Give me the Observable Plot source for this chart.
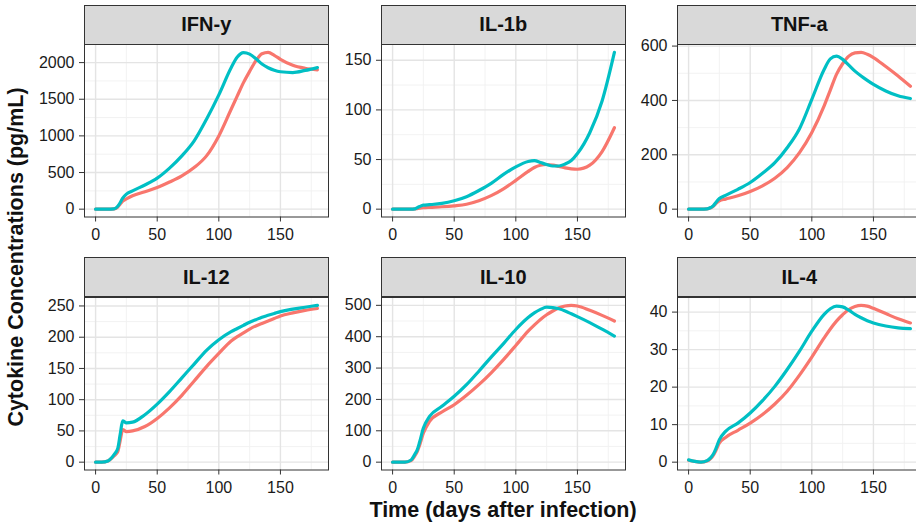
<!DOCTYPE html>
<html><head><meta charset="utf-8">
<script src="https://cdn.jsdelivr.net/npm/d3@7"></script>
<script src="https://cdn.jsdelivr.net/npm/@observablehq/plot@0.6"></script>
<style>
body{margin:0;background:#fff;}
#chart{position:relative;width:916px;height:524px;overflow:hidden;font-family:"Liberation Sans",Arial,sans-serif;background:#fff;}
.strip{position:absolute;box-sizing:border-box;background:#D9D9D9;border:1px solid #333;display:flex;align-items:center;justify-content:center;font-weight:bold;font-size:20px;color:#111;}
.panel{position:absolute;}
.panel svg{overflow:visible;max-width:none !important;}
</style></head><body><div id="chart"></div><script>
// ---- data ----
const days = [0,5,10,15,18,20,22,25,30,40,50,60,70,80,90,100,110,115,120,125,130,135,140,145,150,160,170,180];

const ifnRed  = [0,0,0,3,30,70,110,140,182,238,295,370,455,568,727,1000,1364,1545,1727,1880,2023,2120,2140,2100,2045,1964,1923,1900];
const ifnTeal = [0,0,0,5,40,90,150,205,250,330,423,560,727,932,1227,1560,1930,2075,2135,2115,2055,1980,1930,1895,1875,1864,1893,1932];

const il1bRed  = [0,0,0,0,0.2,0.6,1,1.4,1.8,2.4,3.4,5,8.5,13.6,20.5,29,38,42,44.3,45,44.3,43,41.6,40.6,40.2,44.3,58,82];
const il1bTeal = [0,0,0,0,0.3,1.5,2.7,4,4.5,5.8,8.5,12.6,18.8,26,35,42.6,48,48.8,47,45,43.5,43.5,45.5,49,56,77,109,158];

const tnfRed  = [0,0,0,1,5,11,20,31,37,49,65,86,114,153,208,282,380,438,496,535,563,575,577,570,558,525,490,452];
const tnfTeal = [0,0,0,1,6,12,24,39,51,73,98,132,171,226,296,404,514,553,563,551,530,508,490,474,459,435,417,407];

const il12Red  = [0,0,2,10,17,35,52,49,50,57,70,87,107,130,153,174,194,201,207,213,218,222,226,230,234,239,243,246];
const il12Teal = [0,0,2,12,22,45,66,63,64,76,93,113,135,157,179,196,209,214,219,224,228,232,235,238,241,245,248,251];

const il10Red  = [0,0,0,5,20,34,55,93,130,160,183,213,247,285,327,372,418,437,455,470,482,492,498,500,498,484,468,450];
const il10Teal = [0,0,0,7,25,39,65,109,146,178,210,247,290,335,378,423,461,476,487,494,493,489,482,473,464,445,424,402];

const il4Red  = [0.5,0.2,0,0.3,1,1.8,3,5.1,6.6,8.5,10.4,12.7,15.5,18.9,23.2,28,33.1,35.5,37.6,39.3,40.7,41.5,41.8,41.6,41,39.6,38.2,37.1];
const il4Teal = [0.6,0.2,0,0.4,1.2,2.1,3.5,6,8.2,10.4,13.1,16.4,20.2,24.7,29.6,34.9,39.4,40.9,41.6,41.4,40.5,39.4,38.5,37.7,37.1,36.3,35.8,35.6];

const panelNames = ["IFN-y","IL-1b","TNF-a","IL-12","IL-10","IL-4"];
const redSeries  = [ifnRed, il1bRed, tnfRed, il12Red, il10Red, il4Red];
const tealSeries = [ifnTeal, il1bTeal, tnfTeal, il12Teal, il10Teal, il4Teal];
const yTickSets = [
  [0,500,1000,1500,2000],
  [0,50,100,150],
  [0,200,400,600],
  [0,50,100,150,200,250],
  [0,100,200,300,400,500],
  [0,10,20,30,40]
];
const xTicks = [0,50,100,150];
const xMinorTicks = [25,75,125,175];
const seriesNames = ["group 1","group 2"];
const seriesColors = ["#F8766D","#00BFC4"];
const xTitle = "Time (days after infection)";
const yTitle = "Cytokine Concentrations (pg/mL)";

// ---- layout ----
const colLeft = [84, 381, 677];
const rowTop = [4.5, 257];
const panelW = 244, stripH = 39.5, panelH = 172.5;
const mL = 70, mR = 2, mT = 2, mB = 40;

const chart = document.getElementById("chart");

panelNames.forEach((name, i) => {
  const col = i % 3, row = Math.floor(i / 3);
  const left = colLeft[col], top = rowTop[row];
  const rows = [];
  seriesNames.forEach((s, k) => {
    const vals = k === 0 ? redSeries[i] : tealSeries[i];
    days.forEach((d, j) => rows.push({day: d, value: vals[j], series: s}));
  });
  const vmin = d3.min(rows, d => d.value), vmax = d3.max(rows, d => d.value);
  const pad = (vmax - vmin) * 0.05;
  const ydom = [vmin - pad, vmax + pad];
  const yMajor = yTickSets[i];
  const step = yMajor[1] - yMajor[0];
  const yMinor = d3.range(yMajor[0] - step / 2, yMajor[yMajor.length - 1] + step, step)
    .filter(v => v >= ydom[0] && v <= ydom[1]);

  const strip = document.createElement("div");
  strip.className = "strip";
  strip.style.left = left + "px";
  strip.style.top = top + "px";
  strip.style.width = (panelW + 0.5) + "px";
  strip.style.height = (stripH + 0.5) + "px";
  strip.textContent = name;
  chart.appendChild(strip);

  const W = mL + panelW + mR, H = mT + panelH + mB;
  const p = Plot.plot({
    width: W,
    height: H,
    marginLeft: mL, marginRight: mR, marginTop: mT, marginBottom: mB,
    x: {domain: [-9, 189], label: null},
    y: {domain: ydom, label: null},
    color: {type: "ordinal", domain: seriesNames, range: seriesColors},
    style: {fontSize: "16px", fontFamily: '"Liberation Sans", Arial, sans-serif', color: "#1a1a1a", background: "transparent", maxWidth: "none"},
    marks: [
      Plot.ruleX(xMinorTicks, {stroke: "#F1F1F1", strokeWidth: 0.9}),
      Plot.ruleY(yMinor, {stroke: "#F1F1F1", strokeWidth: 0.9}),
      Plot.ruleX(xTicks, {stroke: "#E4E4E4", strokeWidth: 1.4}),
      Plot.ruleY(yMajor, {stroke: "#E4E4E4", strokeWidth: 1.4}),
      Plot.line(rows, {x: "day", y: "value", z: "series", stroke: "series", strokeWidth: 3.2, curve: "monotone-x"}),
      Plot.frame({stroke: "#333", strokeWidth: 1}),
      Plot.axisX(xTicks, {tickSize: 5, tickPadding: 7, tickFormat: d3.format("d"), label: null, stroke: "#333"}),
      Plot.axisY(yMajor, {tickSize: 5, tickPadding: 5, tickFormat: d3.format("d"), label: null, stroke: "#333"})
    ]
  });
  p.style.maxWidth = "none";
  p.style.width = W + "px";
  p.style.height = H + "px";
  const wrap = document.createElement("div");
  wrap.className = "panel";
  wrap.style.left = (left - mL) + "px";
  wrap.style.top = (top + stripH - mT) + "px";
  wrap.style.width = W + "px";
  wrap.style.height = H + "px";
  wrap.appendChild(p);
  chart.appendChild(wrap);
});

// axis titles
const ov = d3.select(chart).append("svg")
  .attr("width", 916).attr("height", 524)
  .style("position", "absolute").style("left", 0).style("top", 0)
  .style("pointer-events", "none");
ov.append("text")
  .attr("x", 503).attr("y", 517)
  .attr("text-anchor", "middle")
  .attr("font-family", '"Liberation Sans", Arial, sans-serif')
  .attr("font-weight", "bold").attr("font-size", 21.5).attr("fill", "#111")
  .text(xTitle);
ov.append("text")
  .attr("transform", "translate(23,257) rotate(-90)")
  .attr("text-anchor", "middle")
  .attr("font-family", '"Liberation Sans", Arial, sans-serif')
  .attr("font-weight", "bold").attr("font-size", 21.5).attr("fill", "#111")
  .text(yTitle);
</script></body></html>
